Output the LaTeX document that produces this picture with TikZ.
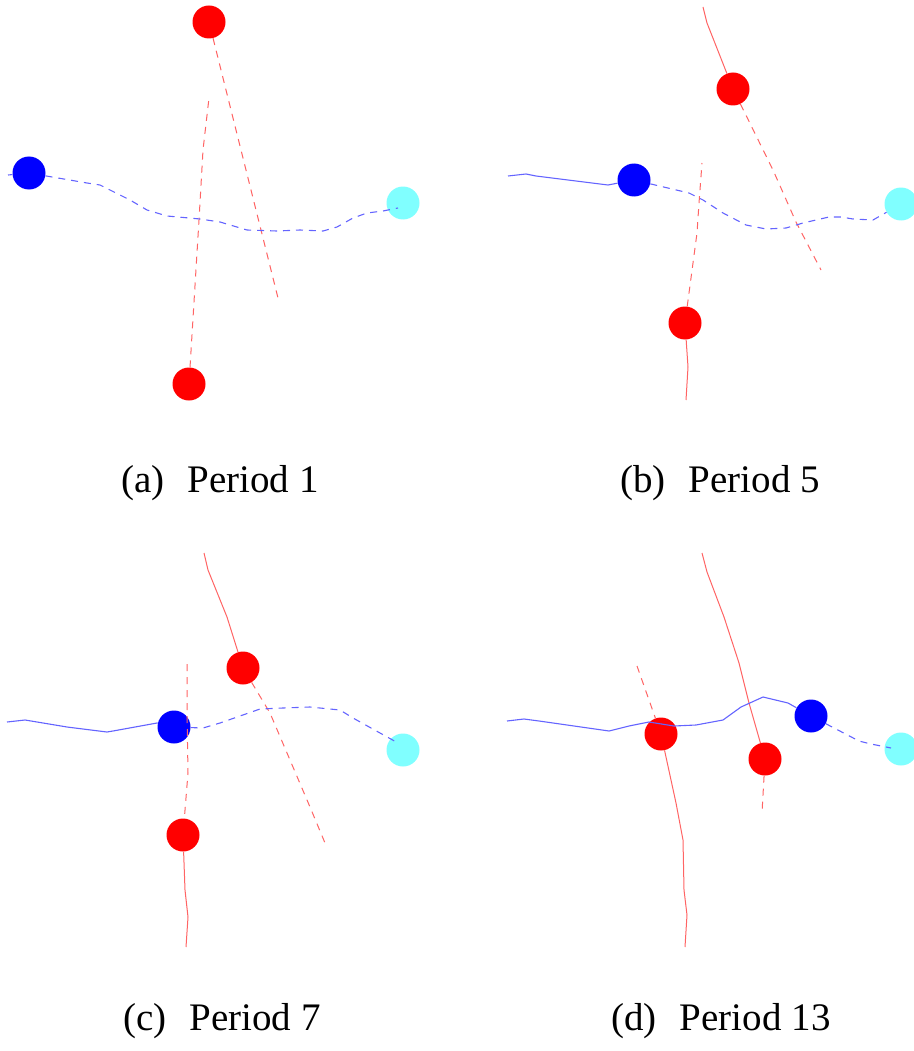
\documentclass[tikz,border=0pt]{standalone}
\usepackage{fontspec}
\setmainfont{Liberation Serif}
\usepackage{tikz}
\definecolor{palecyan}{RGB}{128,255,255}
\definecolor{trackred}{RGB}{255,100,100}
\definecolor{trackblue}{RGB}{100,100,255}

\begin{document}
\begin{tikzpicture}[
            x=1pt, y=-1pt,
            line join=round,
            dot/.style={circle, inner sep=0pt, minimum size=33pt},
            red dot/.style={dot, fill=red},
            blue dot/.style={dot, fill=blue},
            cyan dot/.style={dot, fill=palecyan},
            red track/.style={trackred, line width=1pt},
            red gap track/.style={red track, dash pattern=on 7pt off 6pt},
            blue track/.style={trackblue, line width=1.1pt},
            blue gap track/.style={blue track, dash pattern=on 7pt off 6pt},
            caption/.style={anchor=base, font=\fontsize{39}{41}\selectfont},
        ]
        \useasboundingbox (0,0) rectangle (913,1051);

        % (a)
        \node[red dot] (a-r1) at (209,22) {};
        \node[red dot] (a-r2) at (189,384) {};
        \node[blue dot] (a-b) at (29,173) {};
        \node[cyan dot] (a-c) at (403,203) {};
        \coordinate (a-e1) at (279,302);
        \coordinate (a-e2) at (209,98);
        \coordinate (a-e3) at (8,175);
        \coordinate (a-tip) at (398,208);

        \draw[red gap track] (a-r1) -- (a-e1);
        \draw[red gap track] (a-r2) -- (199,220) -- (203,150) -- (a-e2);
        \draw[blue gap track] (a-e3) -- (a-b);
        \draw[blue gap track] (a-b) -- (87,183) -- (100,185) -- (130,200) -- (147,210)
            -- (167,216) -- (200,219) -- (220,222) -- (247,230) -- (277,231) -- (300,230)
            -- (323,231) -- (337,227) -- (353,218) -- (367,213) -- (383,211) -- (a-tip);

        % (b)
        \node[red dot] (b-r1) at (733,89) {};
        \node[red dot] (b-r2) at (685,323) {};
        \node[blue dot] (b-b) at (634,180) {};
        \node[cyan dot] (b-c) at (901,204) {};
        \coordinate (b-s1) at (703,7);
        \coordinate (b-e1) at (821,270);
        \coordinate (b-e2) at (702,163);
        \coordinate (b-s2) at (686,400);
        \coordinate (b-s3) at (508,176);

        \draw[red track] (b-s1) -- (707,23) -- (b-r1);
        \draw[red gap track] (b-r1) -- (773,170) -- (796,222) -- (b-e1);
        \draw[red gap track] (b-r2) -- (697,233) -- (699,203) -- (b-e2);
        \draw[red track] (b-r2) -- (688,367) -- (b-s2);
        \draw[blue track] (b-s3) -- (526,174) -- (536,176) -- (608,185) -- (b-b);
        \draw[blue gap track] (b-b) -- (689,193) -- (703,200) -- (723,213) -- (746,225)
            -- (766,229) -- (786,228) -- (803,223) -- (829,217) -- (841,217) -- (853,219)
            -- (873,220) -- (b-c);

        % (c)
        \node[red dot] (c-r1) at (243,668) {};
        \node[red dot] (c-r2) at (183,835) {};
        \node[blue dot] (c-b) at (174,727) {};
        \node[cyan dot] (c-c) at (403,750) {};
        \coordinate (c-s1) at (204,553);
        \coordinate (c-e1) at (325,843);
        \coordinate (c-e2) at (187,664);
        \coordinate (c-s2) at (186,947);
        \coordinate (c-s3) at (7,722);
        \coordinate (c-tip) at (398,743);

        \draw[red track] (c-s1) -- (208,570) -- (227,617) -- (c-r1);
        \draw[red gap track] (c-r1) -- (270,713) -- (290,760) -- (310,807) -- (c-e1);
        \draw[red gap track] (c-e2) -- (187,713) -- (188,773) -- (c-r2);
        \draw[red track] (c-r2) -- (185,890) -- (188,917) -- (c-s2);
        \draw[blue track] (c-s3) -- (25,720) -- (67,727) -- (107,732) -- (113,731)
            -- (157,723) -- (c-b);
        \draw[blue gap track] (c-b) -- (203,728) -- (220,723) -- (260,709) -- (283,708)
            -- (310,707) -- (340,710) -- (353,718) -- (c-tip);

        % (d)
        \node[red dot] (d-r1) at (661,734) {};
        \node[red dot] (d-r2) at (765,759) {};
        \node[blue dot] (d-b) at (811,716) {};
        \node[cyan dot] (d-c) at (901,749) {};
        \coordinate (d-e1) at (637,666);
        \coordinate (d-s1) at (685,947);
        \coordinate (d-s2) at (702,553);
        \coordinate (d-e2) at (762,813);
        \coordinate (d-s3) at (507,721);
        \coordinate (d-tip) at (891,748);

        \draw[red gap track] (d-e1) -- (d-r1);
        \draw[red track] (d-r1) -- (676,803) -- (683,840) -- (684,890) -- (687,915) -- (d-s1);
        \draw[red track] (d-s2) -- (707,572) -- (724,617) -- (739,663) -- (749,703) -- (d-r2);
        \draw[red gap track] (d-r2) -- (d-e2);
        \draw[blue track] (d-s3) -- (524,719) -- (539,721) -- (609,731) -- (629,726)
            -- (649,722) -- (674,726) -- (696,725) -- (723,720) -- (741,707) -- (763,697)
            -- (788,703) -- (d-b);
        \draw[blue gap track] (d-b) -- (859,741) -- (871,744) -- (d-tip);

        \node[caption] (cap-a) at (220,492) {(a)\hspace{23pt}Period 1};
        \node[caption] (cap-b) at (720,492) {(b)\hspace{23pt}Period 5};
        \node[caption] (cap-c) at (222,1030) {(c)\hspace{23pt}Period 7};
        \node[caption] (cap-d) at (721,1030) {(d)\hspace{23pt}Period 13};
\end{tikzpicture}
\end{document}
